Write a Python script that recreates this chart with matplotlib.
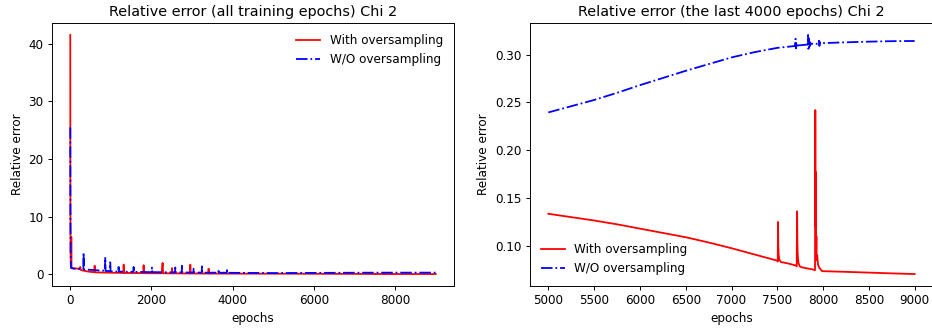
import matplotlib.pyplot as plt
import numpy as np

# ---- data ----
# with oversampling, epochs 0..4999
red_early_x = [0, 2, 5, 10, 15, 20, 25, 30, 40, 100, 200, 240, 246, 255, 300, 400, 500,
               595, 600, 610, 700, 800, 1000, 1200, 1308, 1314, 1325, 1500, 1800, 1806,
               1815, 2000, 2250, 2274, 2285, 2500, 2505, 2515, 2700, 2950, 2956, 2965,
               3200, 3400, 3407, 3415, 3600, 4000, 4500]
red_early_y = [41.5, 20, 8, 3, 1.6, 1.2, 6.5, 1.2, 1.1, 1.05, 1.0, 0.9, 1.3, 0.8, 0.7, 0.55, 0.45,
               0.4, 1.5, 0.35, 0.35, 0.33, 0.3, 0.28, 0.27, 1.7, 0.26, 0.25, 0.23, 1.6,
               0.22, 0.21, 0.2, 2.0, 0.2, 0.19, 1.1, 0.19, 0.18, 0.17, 1.7, 0.17,
               0.16, 0.155, 1.0, 0.15, 0.15, 0.145, 0.14]

# without oversampling, epochs 0..4999
blue_early_x = [0, 3, 8, 15, 25, 100, 200, 300, 322, 328, 335, 500, 700, 855, 862, 870,
                980, 985, 992, 1185, 1190, 1197, 1555, 1560, 1567, 2007, 2012, 2019,
                2581, 2586, 2593, 2745, 2750, 2757, 3032, 3037, 3044, 3238, 3243, 3250,
                3648, 3653, 3660, 3853, 3858, 3865, 4000, 4500]
blue_early_y = [25.5, 12, 4, 1.5, 1.1, 1.0, 0.95, 0.9, 0.9, 3.8, 0.85, 0.8, 0.7, 0.65, 3.0, 0.6,
                0.58, 2.1, 0.55, 0.5, 1.3, 0.5, 0.45, 1.3, 0.45, 0.4, 1.2, 0.4,
                0.36, 1.2, 0.36, 0.35, 1.5, 0.35, 0.33, 1.0, 0.33, 0.32, 1.4, 0.32,
                0.3, 0.9, 0.3, 0.29, 1.0, 0.29, 0.28, 0.26]

# last 4000 epochs
red_late_x = [5000, 5250, 5500, 5750, 6000, 6250, 6500, 6750, 7000, 7250, 7500,
              7505, 7508, 7511, 7514, 7518, 7525, 7540, 7570, 7620, 7700,
              7712, 7716, 7719, 7722, 7726, 7732, 7745, 7770, 7820, 7880,
              7912, 7915, 7918, 7921, 7924, 7927, 7930, 7936, 7945, 7960, 7975, 7990,
              8000, 8250, 8500, 8750, 9000]
red_late_y = [0.1335, 0.130, 0.1265, 0.1225, 0.118, 0.1135, 0.109, 0.1035, 0.0975, 0.091, 0.0845,
              0.0835, 0.125, 0.100, 0.092, 0.088, 0.085, 0.083, 0.0825, 0.0815, 0.0795,
              0.0785, 0.136, 0.105, 0.093, 0.086, 0.082, 0.0785, 0.0775, 0.0765, 0.0755,
              0.0745, 0.242, 0.120, 0.177, 0.095, 0.110, 0.085, 0.090, 0.080, 0.077, 0.075, 0.0735,
              0.0735, 0.0728, 0.072, 0.0712, 0.0705]

blue_late_x = [5000, 5250, 5500, 5750, 6000, 6250, 6500, 6750, 7000, 7250, 7500, 7650,
               7695, 7699, 7703, 7707, 7711, 7715, 7760, 7800,
               7832, 7836, 7840, 7844, 7848, 7852, 7858, 7864, 7900,
               7950, 7955, 7960, 7965, 7970, 8000, 8250, 8500, 8750, 9000]
blue_late_y = [0.2395, 0.246, 0.2525, 0.260, 0.268, 0.2755, 0.283, 0.290, 0.297, 0.3025, 0.307, 0.3085,
               0.309, 0.3165, 0.3065, 0.313, 0.3075, 0.3095, 0.3098, 0.3102,
               0.3105, 0.3205, 0.306, 0.317, 0.3075, 0.3135, 0.309, 0.3115, 0.311,
               0.3115, 0.3145, 0.309, 0.313, 0.3115, 0.312, 0.3128, 0.3135, 0.314, 0.3142]

red_x = red_early_x + red_late_x
red_y = red_early_y + red_late_y
blue_x = blue_early_x + blue_late_x
blue_y = blue_early_y + blue_late_y

DPI = 86.4
fig = plt.figure(figsize=(932 / DPI, 328 / DPI), dpi=DPI)

ax1 = fig.add_axes([52 / 932, 42 / 328, 402 / 932, 263 / 328])
ax1.plot(red_x, red_y, color='r', label='With oversampling')
ax1.plot(blue_x, blue_y, color='b', linestyle='-.', label='W/O oversampling')
ax1.set_title('Relative error (all training epochs) Chi 2')
ax1.set_xlabel('epochs')
ax1.set_ylabel('Relative error')
ax1.legend(loc='upper right', frameon=False)

ax2 = fig.add_axes([530 / 932, 42 / 328, 403 / 932, 263 / 328])
ax2.plot(red_late_x, red_late_y, color='r', label='With oversampling')
ax2.plot(blue_late_x, blue_late_y, color='b', linestyle='-.', label='W/O oversampling')
ax2.set_title('Relative error (the last 4000 epochs) Chi 2')
ax2.set_xlabel('epochs')
ax2.set_ylabel('Relative error')
ax2.legend(loc='lower left', frameon=False)

fig.savefig('out.png', dpi=DPI)
